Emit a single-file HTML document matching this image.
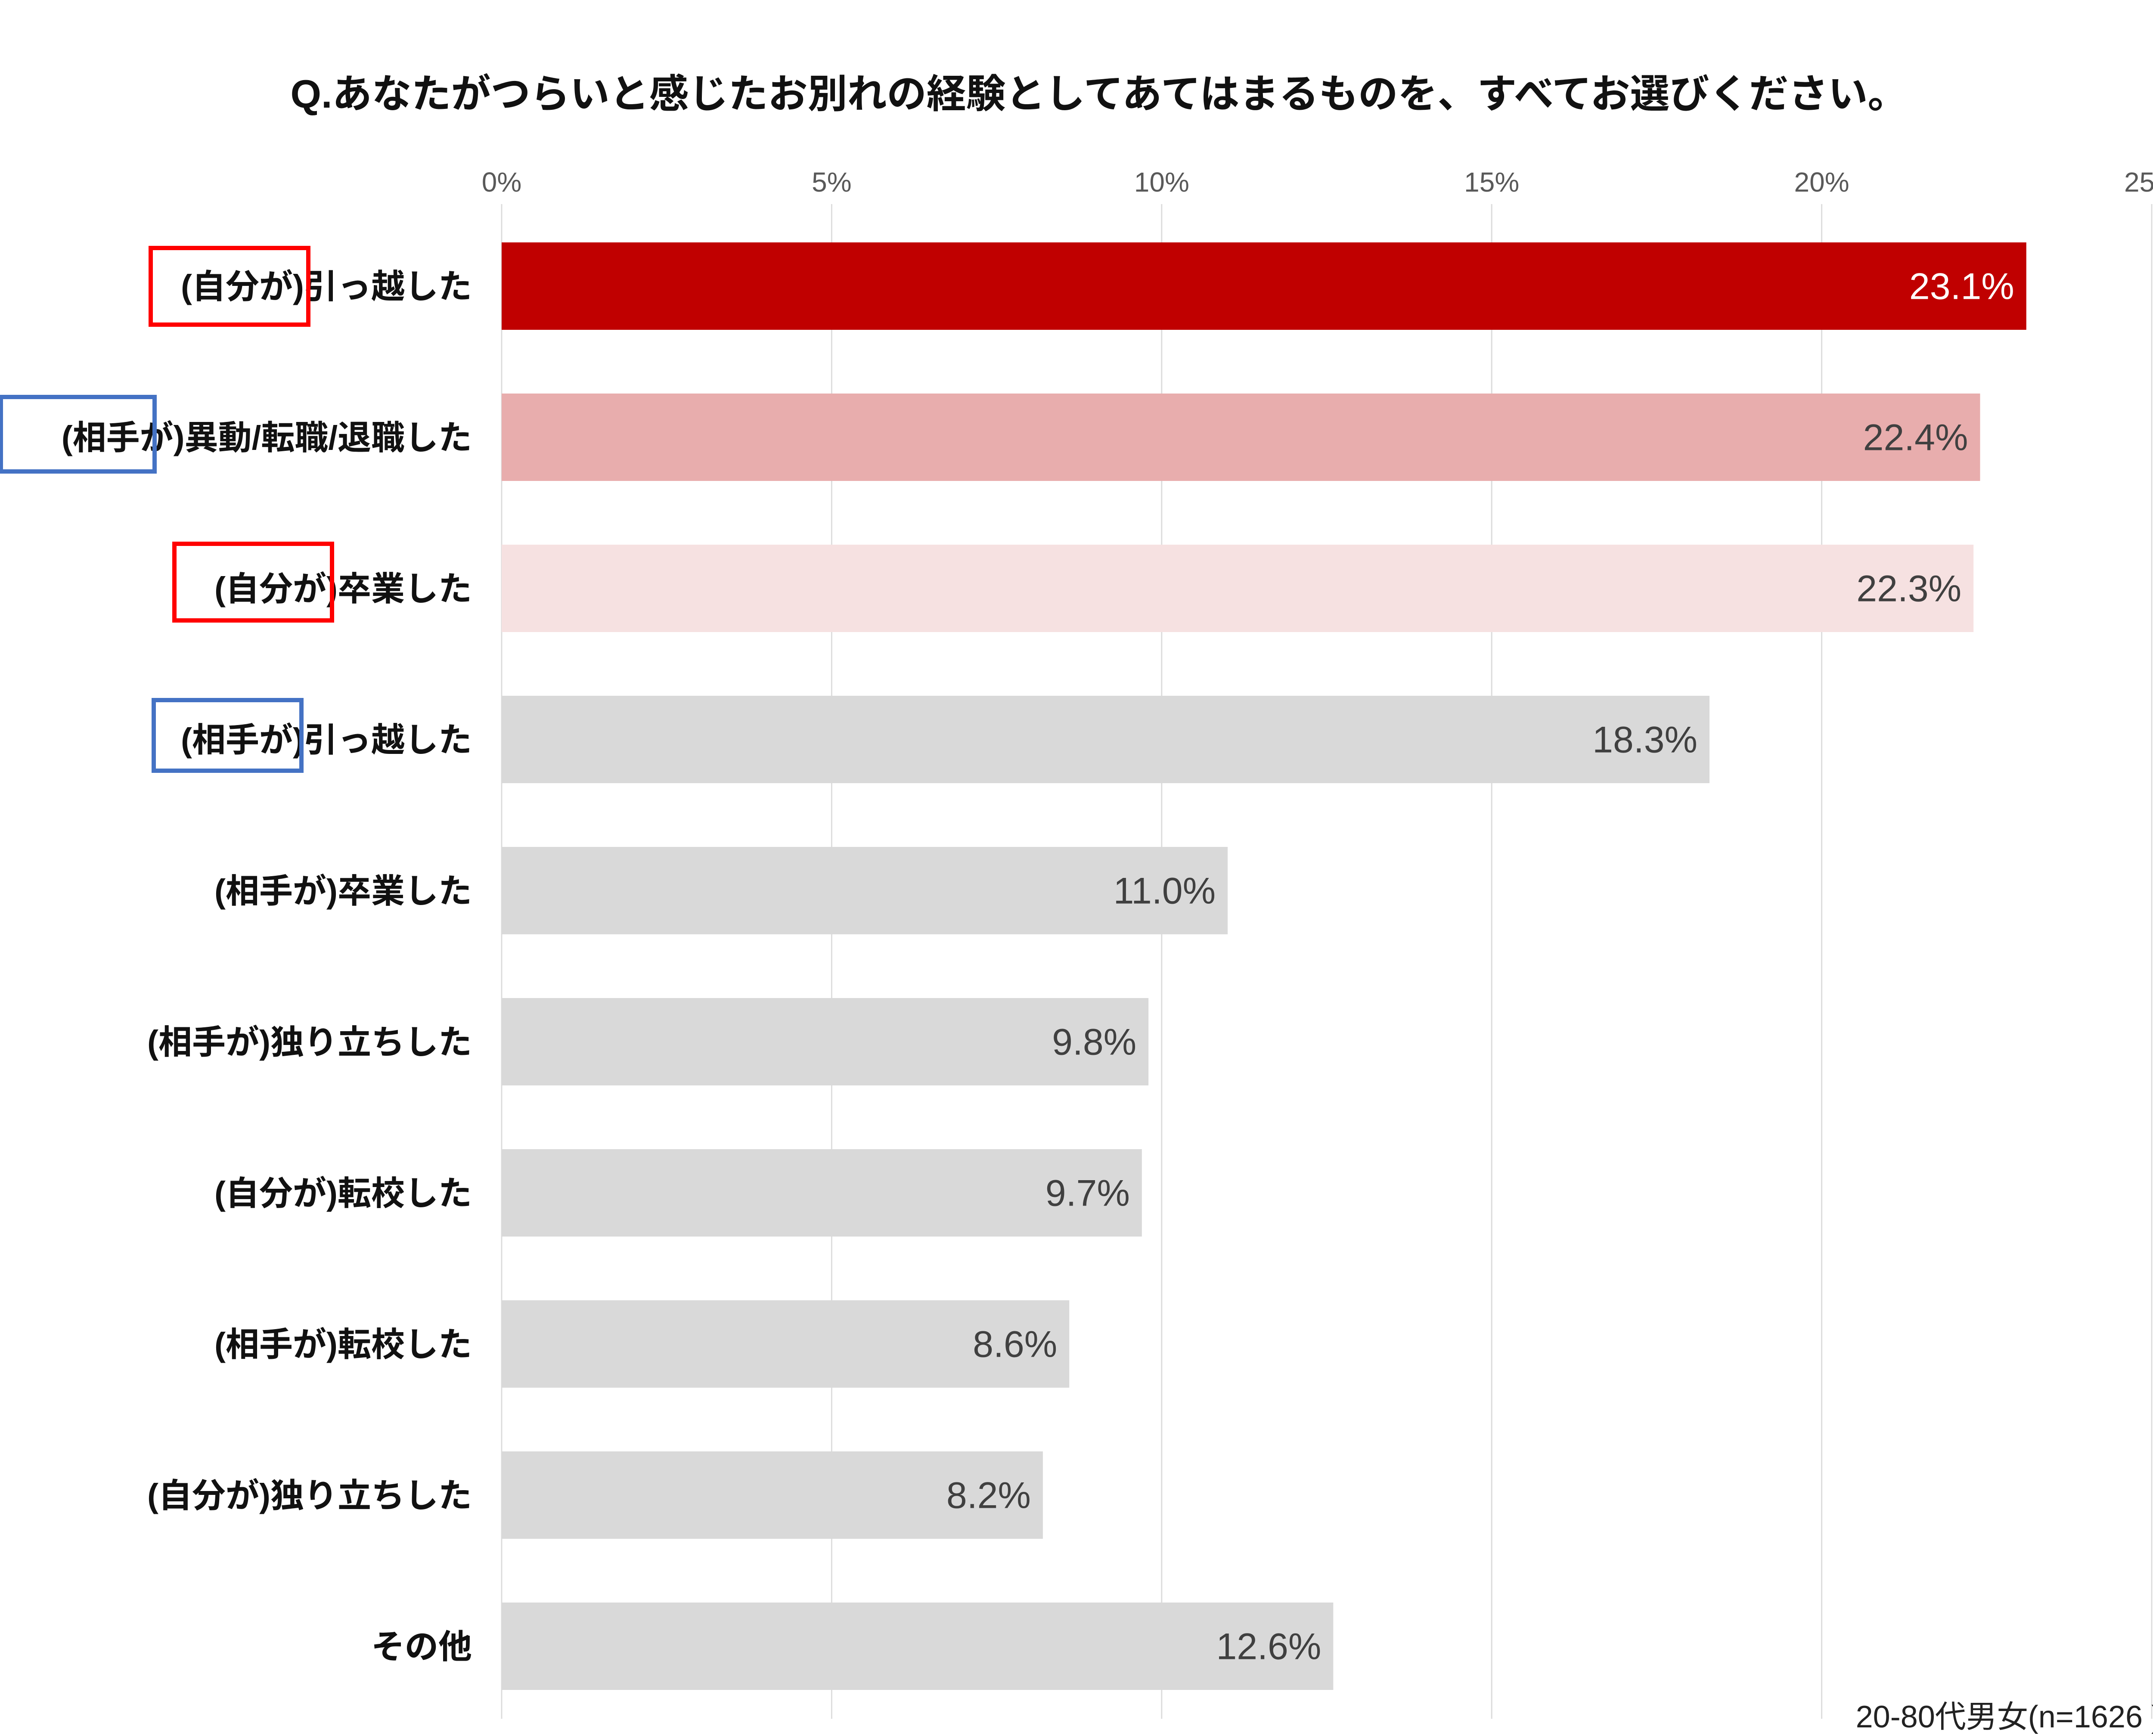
<!DOCTYPE html>
<html><head><meta charset="utf-8">
<style>
html,body{margin:0;padding:0;background:#fff;}
svg{display:block;}
text{font-family:"Liberation Sans","Noto Sans CJK JP",sans-serif;}
</style></head>
<body>
<svg id="chart" width="5105" height="4032" viewBox="0 0 5105 4032" xmlns="http://www.w3.org/2000/svg">
<rect width="5105" height="4032" fill="#fff"/>
<text x="2552" y="250" text-anchor="middle" font-size="92" font-weight="bold" fill="#111">Q.あなたがつらいと感じたお別れの経験としてあてはまるものを、すべてお選びください。</text>
<g id="grid"></g>
<g id="bars"></g>
<g id="boxes"></g>
<text x="5020" y="4012" text-anchor="end" font-size="72" fill="#222">20-80代男女(n=1626 )</text>
</svg>
<script>
const categories = ["(自分が)引っ越した","(相手が)異動/転職/退職した","(自分が)卒業した","(相手が)引っ越した","(相手が)卒業した","(相手が)独り立ちした","(自分が)転校した","(相手が)転校した","(自分が)独り立ちした","その他"];
const values = [23.1,22.4,22.3,18.3,11.0,9.8,9.7,8.6,8.2,12.6];
const tickValues = [0,5,10,15,20,25];
const tickLabels = ["0%","5%","10%","15%","20%","25%"];
const barColors = ["#c00000","#e8adad","#f6e1e1","#d9d9d9","#d9d9d9","#d9d9d9","#d9d9d9","#d9d9d9","#d9d9d9","#d9d9d9"];

const NS="http://www.w3.org/2000/svg";
const x0=1165, x1=4997, vmax=25;
const xs=v=>x0+(x1-x0)*v/vmax;
const top0=563, pitch=351, bh=203;
const ys=i=>top0+i*pitch;
function mk(tag,attrs,parent){const e=document.createElementNS(NS,tag);for(const k in attrs)e.setAttribute(k,attrs[k]);parent.appendChild(e);return e;}
const grid=document.getElementById('grid'), bars=document.getElementById('bars'), boxes=document.getElementById('boxes');
tickValues.forEach((v,i)=>{
  const l=mk('line',{x1:xs(v),x2:xs(v),y1:474,y2:3992,stroke:'#dcdcdc','stroke-width':3},grid);
  
  
  const t=mk('text',{x:xs(v),y:445,'text-anchor':'middle','font-size':64,fill:'#595959'},grid);
  
  
  t.textContent=tickLabels[i];
});
categories.forEach((c,i)=>{
  const y=ys(i);
  const r=mk('rect',{x:x0,y:y,width:xs(values[i])-x0,height:bh,fill:barColors[i]},bars);
  
  
  const lab=mk('text',{x:1096,y:y+bh/2+28,'text-anchor':'end','font-size':78,'font-weight':'bold',fill:'#111'},bars);
  
  
  lab.textContent=c;
  const vt=mk('text',{x:xs(values[i])-28,y:y+bh/2+30,'text-anchor':'end','font-size':86,fill:i===0?'#fff':'#404040'},bars);
  
  
  vt.textContent=values[i].toFixed(1)+'%';
});
const boxDefs=[[350,576,366,178,'#ff0000'],[2,922,357,173,'#4472c4'],[405,1263,366,178,'#ff0000'],[357,1626,343,164,'#4472c4']];
boxDefs.forEach(b=>{
  const r=mk('rect',{x:b[0],y:b[1],width:b[2],height:b[3],fill:'none',stroke:b[4],'stroke-width':10},boxes);
  
  
});
</script>
</body></html>
